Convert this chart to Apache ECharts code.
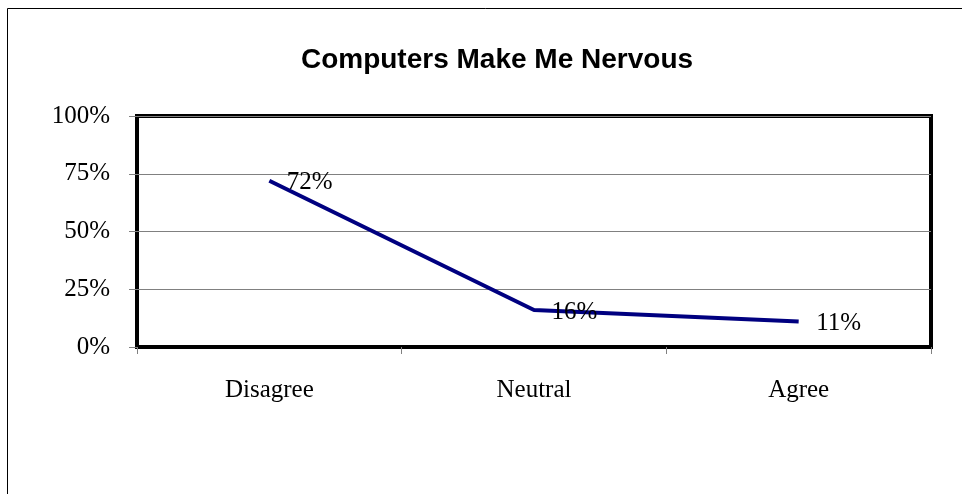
<!DOCTYPE html>
<html>
<head>
<meta charset="utf-8">
<script src="https://cdn.jsdelivr.net/npm/echarts@6/dist/echarts.min.js"></script>
<style>
  html, body { margin: 0; padding: 0; background: #fff; }
  #main { width: 962px; height: 494px; }
</style>
</head>
<body>
<div id="main"></div>
<script>
var categories = ['Disagree', 'Neutral', 'Agree'];
var values = [72, 16, 11];
var yTicks = [0, 25, 50, 75, 100];

var chartDom = document.getElementById('main');
var myChart = echarts.init(chartDom);
var serif = '"Liberation Serif", "Times New Roman", serif';

var option = {
  animation: false,
  backgroundColor: '#fff',
  title: {
    text: 'Computers Make Me Nervous',
    left: 492,
    textAlign: 'center',
    top: 41,
    textStyle: {
      fontFamily: '"Liberation Sans", Arial, sans-serif',
      fontWeight: 'bold',
      fontSize: 28,
      color: '#000'
    }
  },
  graphic: [{
    type: 'rect',
    shape: { x: 7.5, y: 8.5, width: 980, height: 500 },
    style: { fill: 'none', stroke: '#000', lineWidth: 1 },
    silent: true
  }],
  grid: {
    left: 137,
    right: 31,
    top: 116,
    bottom: 147,
    show: true,
    borderColor: '#000',
    borderWidth: 4,
    backgroundColor: 'transparent'
  },
  xAxis: {
    type: 'category',
    data: categories,
    boundaryGap: true,
    axisLine: { show: true, lineStyle: { color: '#000', width: 4 } },
    axisTick: { show: true, alignWithLabel: false, length: 7, lineStyle: { color: '#808080', width: 1 } },
    axisLabel: { margin: 31, fontFamily: serif, fontSize: 25, color: '#000' },
    splitLine: { show: false }
  },
  yAxis: {
    type: 'value',
    min: yTicks[0],
    max: yTicks[yTicks.length - 1],
    interval: 25,
    axisLine: { show: false },
    axisTick: { show: true, length: 8, lineStyle: { color: '#808080', width: 1 } },
    axisLabel: { margin: 27, fontFamily: serif, fontSize: 25, color: '#000', formatter: '{value}%' },
    splitLine: { show: true, lineStyle: { color: '#808080', width: 1 } }
  },
  series: [{
    type: 'line',
    data: values,
    showSymbol: true,
    symbol: 'circle',
    symbolSize: 1,
    itemStyle: { color: '#000080', opacity: 0 },
    lineStyle: { color: '#000080', width: 4, opacity: 1 },
    label: {
      show: true,
      position: 'right',
      distance: 17,
      offset: [0, 2],
      fontFamily: serif,
      fontSize: 25,
      color: '#000',
      opacity: 1,
      formatter: '{c}%'
    }
  }]
};

option && myChart.setOption(option);
</script>
</body>
</html>
